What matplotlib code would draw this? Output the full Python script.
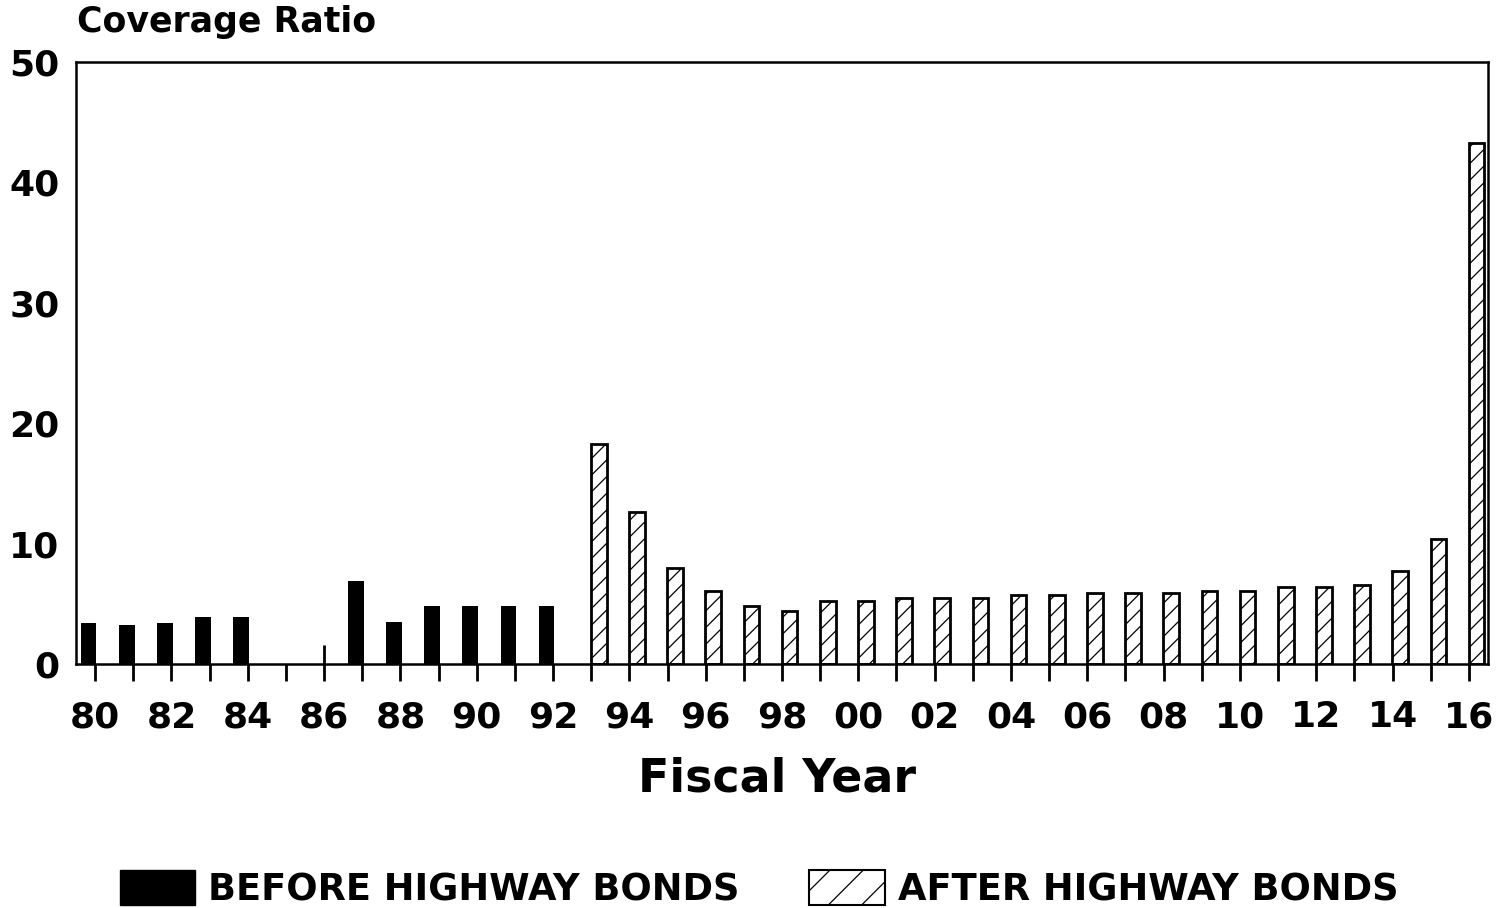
import numpy as np
import matplotlib
matplotlib.use("Agg")
import matplotlib.pyplot as plt
from matplotlib.patches import Patch

# fiscal years 1980 .. 2016 shown as two-digit labels
years = ["80", "81", "82", "83", "84", "85", "86", "87", "88", "89", "90", "91", "92",
         "93", "94", "95", "96", "97", "98", "99", "00", "01", "02", "03", "04",
         "05", "06", "07", "08", "09", "10", "11", "12", "13", "14", "15", "16"]

before_years = ["80", "81", "82", "83", "84", "87", "88", "89", "90", "91", "92"]
before_vals = [3.4, 3.2, 3.4, 3.9, 3.9, 6.9, 3.5, 4.8, 4.8, 4.8, 4.8]

# thin stub drawn at fiscal 86
stub_years = ["86"]
stub_vals = [1.6]

after_years = ["93", "94", "95", "96", "97", "98", "99", "00", "01", "02", "03", "04",
               "05", "06", "07", "08", "09", "10", "11", "12", "13", "14", "15", "16"]
after_vals = [18.3, 12.6, 8.0, 6.1, 4.8, 4.4, 5.2, 5.2, 5.5, 5.5, 5.5, 5.7,
              5.7, 5.9, 5.9, 5.9, 6.1, 6.1, 6.4, 6.4, 6.6, 7.7, 10.4, 43.3]

y_ticks = [0, 10, 20, 30, 40, 50]

BAR_W = 0.41
FONT = "DejaVu Sans"


def main():
    plt.rcParams["font.family"] = FONT
    plt.rcParams["font.weight"] = "bold"
    plt.rcParams["hatch.linewidth"] = 0.9

    fig = plt.figure(figsize=(14.96, 9.08), dpi=100)
    ax = fig.add_axes([76 / 1496, 1 - 664 / 908, (1488 - 76) / 1496, (664 - 62) / 908])

    pos = {y: i for i, y in enumerate(years)}
    xb = np.array([pos[y] for y in before_years]) - 0.17
    xa = np.array([pos[y] for y in after_years]) + 0.20
    xs = [pos[y] for y in stub_years]

    ax.bar(xb, before_vals, width=BAR_W, color="black", edgecolor="black", linewidth=0)
    ax.bar(xa, after_vals, width=BAR_W, color="white", edgecolor="black",
           linewidth=2, hatch="//")
    ax.vlines(xs, 0, stub_vals, color="black", linewidth=2)

    ax.set_xlim(-0.5, len(years) - 0.5)
    ax.set_ylim(0, 50)
    ax.set_xticks(range(len(years)))
    ax.set_xticklabels([y if i % 2 == 0 else "" for i, y in enumerate(years)])
    ax.set_yticks(y_ticks)
    ax.tick_params(axis="x", direction="out", length=12, width=2, pad=14,
                   labelsize=26, color="black")
    ax.tick_params(axis="y", length=0, pad=12, labelsize=26)
    for s in ax.spines.values():
        s.set_linewidth(1.8)
        s.set_color("black")

    fig.text(77 / 1496, 1 - 5 / 908, "Coverage Ratio", fontsize=25,
             fontweight="bold", ha="left", va="top")
    fig.text(777 / 1496, 1 - 779 / 908, "Fiscal Year", fontsize=33,
             fontweight="bold", ha="center", va="center")

    handles = [
        Patch(facecolor="black", edgecolor="black", label="BEFORE HIGHWAY BONDS"),
        Patch(facecolor="white", edgecolor="black", hatch="/", linewidth=1.5,
              label="AFTER HIGHWAY BONDS"),
    ]
    fig.legend(handles=handles, loc="center", bbox_to_anchor=(759 / 1496, 1 - 889 / 908),
               ncol=2, frameon=False, fontsize=26.5, handlelength=2.05,
               handleheight=1.1, handletextpad=0.35, columnspacing=1.9)

    fig.savefig("out.png", dpi=100)


if __name__ == "__main__":
    main()
